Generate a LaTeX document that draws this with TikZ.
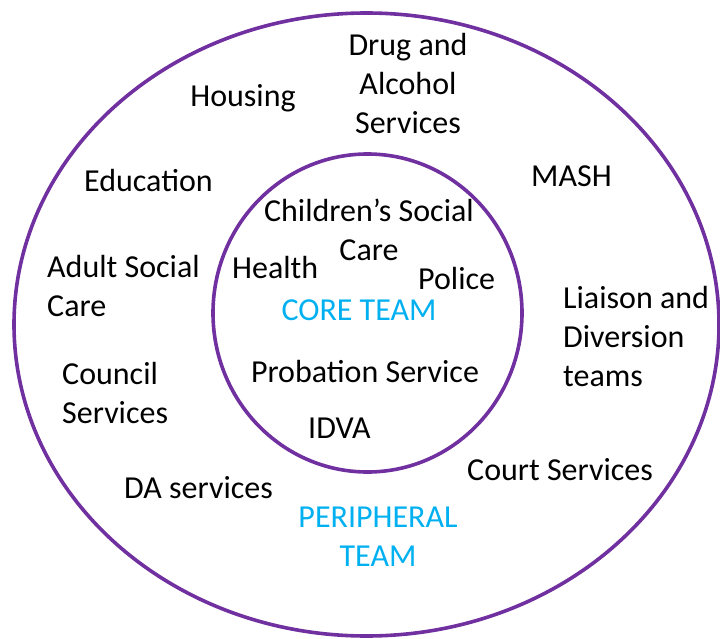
\documentclass[tikz,border=0pt]{standalone}
\usepackage{fontspec}
\setmainfont{Carlito}
\definecolor{ringpurple}{HTML}{7030A0}
\definecolor{teamcyan}{HTML}{00B0F0}
\begin{document}
\begin{tikzpicture}[x=1pt,y=-1pt,
  ring/.style={draw=ringpurple,line width=3.6pt},
  lbl/.style={inner sep=0pt,font=\fontsize{32}{39}\selectfont},
  team/.style={lbl,text=teamcyan}]
\useasboundingbox (0,0) rectangle (720,639);
% outer (peripheral) and inner (core) rings
\draw[ring] (366.5,324.5) ellipse [x radius=352.5, y radius=311.5];
\draw[ring] (367.5,313) ellipse [x radius=154.5, y radius=159];
% peripheral team (multi-line labels are anchored at their last baseline)
\node[lbl,align=center,anchor=base] (drug) at (408,134) {Drug and\\Alcohol\\Services};
\node[lbl,anchor=base] (housing) at (243,107) {Housing};
\node[lbl,anchor=base west] (mash) at (531,187) {MASH};
\node[lbl,anchor=base west] (edu) at (84,192) {Education};
\node[lbl,align=left,anchor=base west] (adult) at (47,316) {Adult Social\\Care};
\node[lbl,align=left,anchor=base west] (liaison) at (563,386) {Liaison and\\Diversion\\teams};
\node[lbl,align=left,anchor=base west] (council) at (62,423) {Council\\Services};
\node[lbl,anchor=base west] (court) at (467,480) {Court Services};
\node[lbl,anchor=base west] (da) at (124,498) {DA services};
\node[team,align=center,anchor=base] (periph) at (378,566) {PERIPHERAL\\TEAM};
% core team
\node[lbl,align=center,anchor=base] (csc) at (369,260) {Children’s Social\\Care};
\node[lbl,anchor=base west] (health) at (232,278) {Health};
\node[lbl,anchor=base west] (police) at (418,289) {Police};
\node[team,anchor=base] (core) at (359,320) {CORE TEAM};
\node[lbl,anchor=base] (prob) at (365,382) {Probation Service};
\node[lbl,anchor=base west] (idva) at (308,438) {IDVA};
\end{tikzpicture}
\end{document}
